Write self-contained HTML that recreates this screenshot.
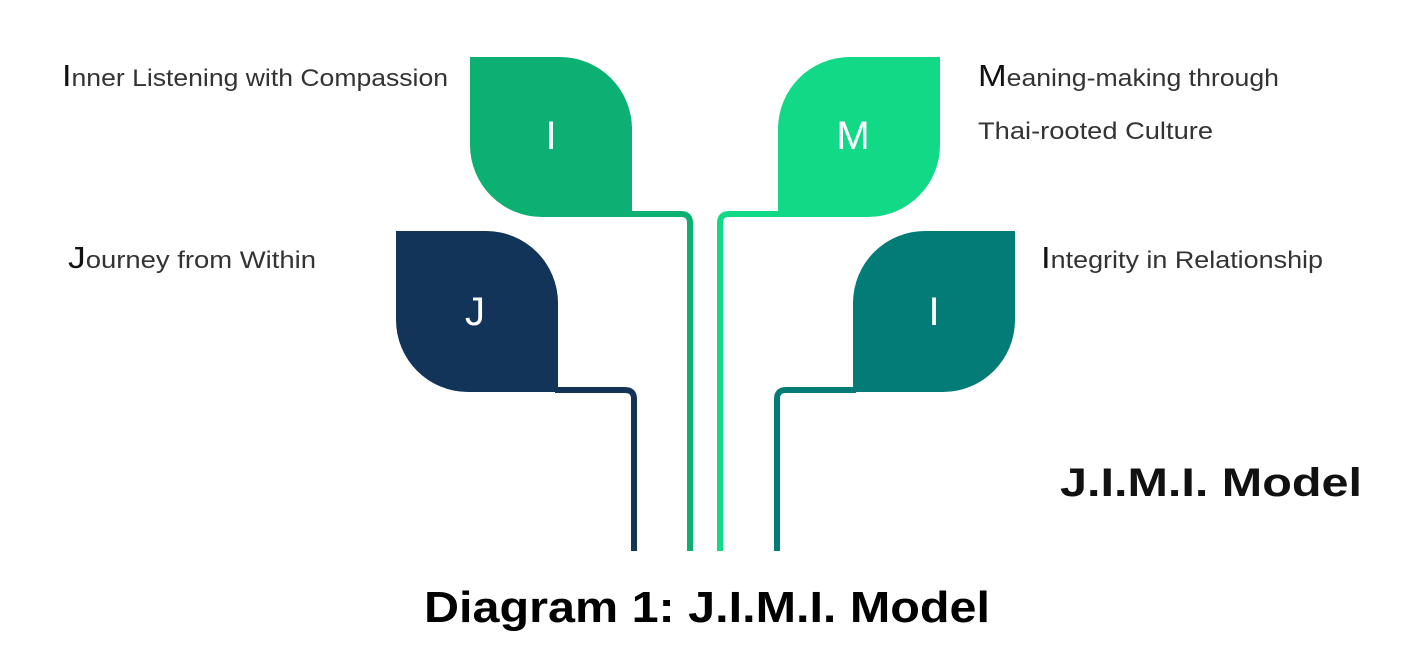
<!DOCTYPE html>
<html><head><meta charset="utf-8"><style>
html,body{margin:0;padding:0;background:#fff;}
svg{display:block;}
</style></head><body>
<svg width="1414" height="657" viewBox="0 0 1414 657" xmlns="http://www.w3.org/2000/svg">
<rect width="1414" height="657" fill="#fff"/>
<!-- stems -->
<g fill="none" stroke-width="6">
<path d="M630 214 H681 Q690 214 690 223 V551" stroke="#0db073"/>
<path d="M555 390 H625 Q634 390 634 399 V551" stroke="#123459"/>
<path d="M782 214 H729 Q720 214 720 223 V551" stroke="#12d985"/>
<path d="M856 390 H786 Q777 390 777 399 V551" stroke="#037c77"/>
</g>
<!-- leaves -->
<path d="M470 57 H560 A72 72 0 0 1 632 129 V217 H542 A72 72 0 0 1 470 145 Z" fill="#0db073"/>
<path d="M396 231 H486 A72 72 0 0 1 558 303 V392 H468 A72 72 0 0 1 396 320 Z" fill="#123459"/>
<path d="M940 57 H850 A72 72 0 0 0 778 129 V217 H868 A72 72 0 0 0 940 145 Z" fill="#12d985"/>
<path d="M1015 231 H925 A72 72 0 0 0 853 303 V392 H943 A72 72 0 0 0 1015 320 Z" fill="#037c77"/>
<g fill="#fff" font-family="Liberation Sans, sans-serif" font-size="40" text-anchor="middle">
<text x="551" y="149">I</text>
<text x="475" y="325">J</text>
<text x="853" y="149">M</text>
<text x="934" y="325">I</text>
</g>
<g fill="#333" font-family="Liberation Sans, sans-serif" font-size="24">
<text x="62" y="86" textLength="386" lengthAdjust="spacingAndGlyphs"><tspan font-size="31" fill="#111">I</tspan>nner Listening with Compassion</text>
<text x="68" y="268" textLength="248" lengthAdjust="spacingAndGlyphs"><tspan font-size="31" fill="#111">J</tspan>ourney from Within</text>
<text x="978" y="86" textLength="301" lengthAdjust="spacingAndGlyphs"><tspan font-size="31" fill="#111">M</tspan>eaning-making through</text>
<text x="978" y="139" textLength="235" lengthAdjust="spacingAndGlyphs">Thai-rooted Culture</text>
<text x="1041" y="268" textLength="282" lengthAdjust="spacingAndGlyphs"><tspan font-size="31" fill="#111">I</tspan>ntegrity in Relationship</text>
</g>
<text x="1060" y="496" font-family="Liberation Sans, sans-serif" font-weight="bold" font-size="40" fill="#111" textLength="302" lengthAdjust="spacingAndGlyphs">J.I.M.I. Model</text>
<text x="707" y="622" font-family="Liberation Sans, sans-serif" font-weight="bold" font-size="44" fill="#000" text-anchor="middle" textLength="566" lengthAdjust="spacingAndGlyphs">Diagram 1: J.I.M.I. Model</text>
</svg>
</body></html>
